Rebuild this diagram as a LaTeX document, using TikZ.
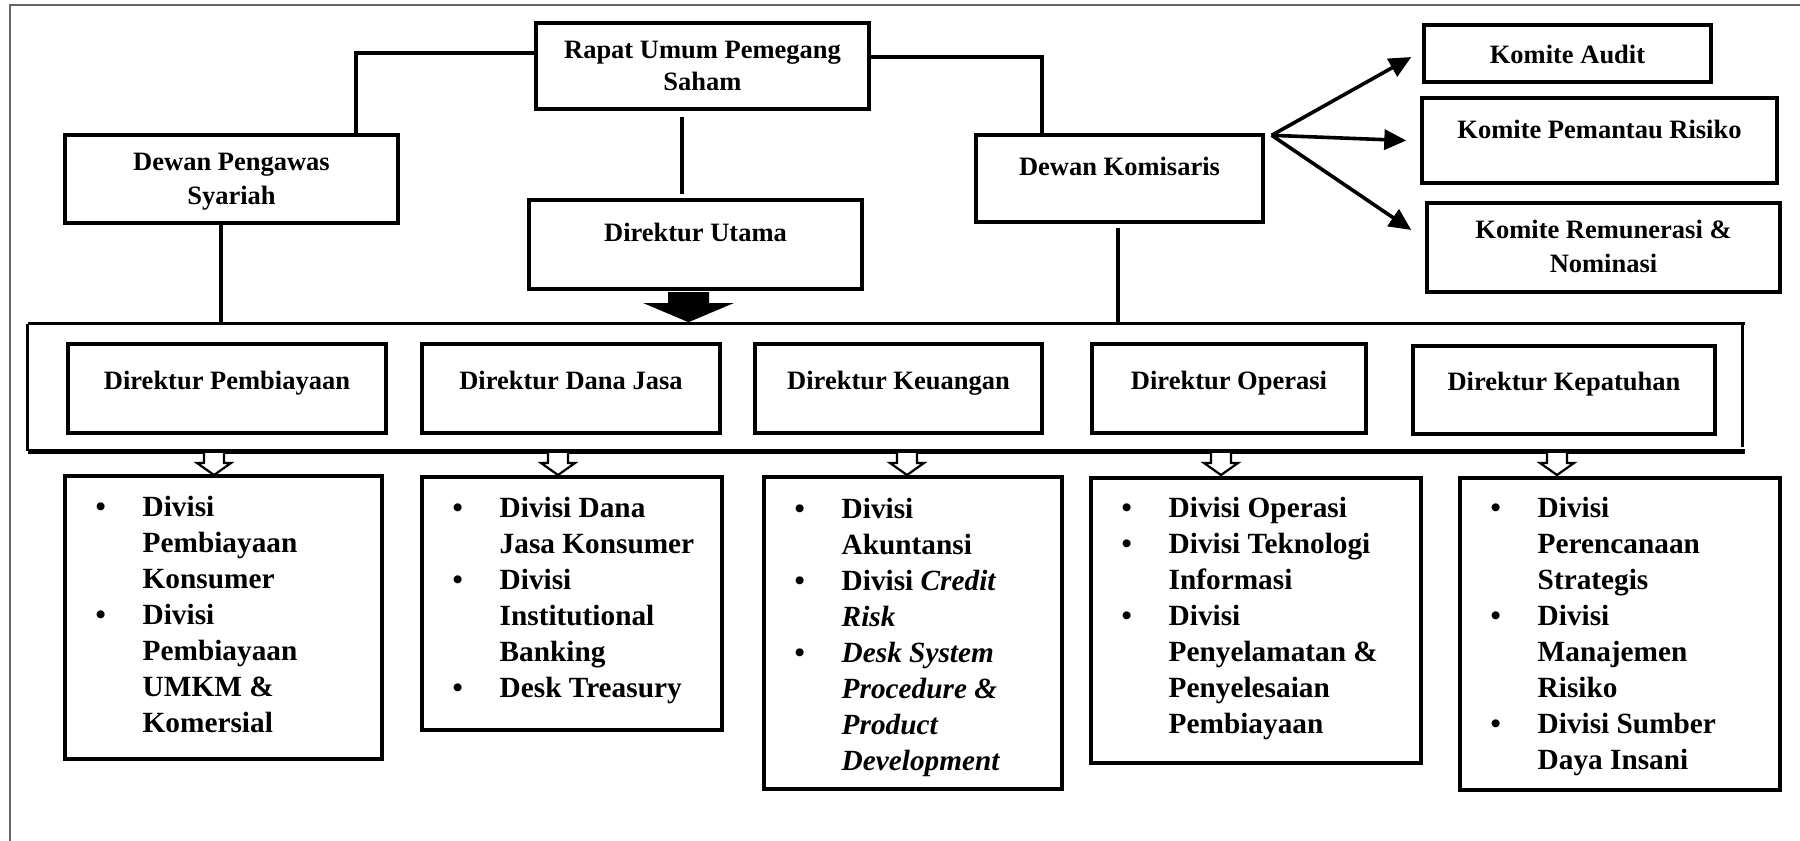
\documentclass[tikz,border=0pt]{standalone}
\usepackage{fontspec}
\setmainfont{Liberation Serif}
\usetikzlibrary{fit,calc,arrows.meta}
\newcommand{\bul}{\makebox[23.5pt][l]{\textbullet}}
\newcommand{\ind}{\hspace*{23.5pt}}
\begin{document}
\begin{tikzpicture}[x=0.5pt,y=-0.5pt,
  box/.style={draw, line width=1.7pt, inner sep=0pt},
  hd/.style={font=\fontsize{13.25pt}{16pt}\selectfont\bfseries, inner sep=0pt, align=center},
  conn/.style={line width=1.6pt},
  fan/.style={line width=1.8pt, -{Triangle[length=11pt,width=10pt]}},
  lst/.style={font=\fontsize{14.65pt}{18pt}\selectfont\bfseries, inner sep=0pt, anchor=base west},
  harrow/.pic={\filldraw[fill=white, line width=1.1pt] (-10,0) -- (-10,10) -- (-17,10) -- (0,22) -- (17,10) -- (10,10) -- (10,0);}
]
\useasboundingbox (0,0) rectangle (1800,841);
\draw[black!60, line width=1pt] (10,841) -- (10,5) -- (1800,5);

% top level boxes
\node[box, fit={(536,23) (869,109)}] (rups) {};
\node[hd, anchor=base] (rupsT) at ($(rups.north)+(0,37)$) {\fontsize{13.25pt}{16pt}\selectfont\begin{tabular}[t]{@{}c@{}}Rapat Umum Pemegang\\Saham\end{tabular}};
\node[box, fit={(65,135) (398,223)}] (dps) {};
\node[hd, anchor=base] (dpsT) at ($(dps.north)+(0,37)$) {\fontsize{13.25pt}{17pt}\selectfont\begin{tabular}[t]{@{}c@{}}Dewan Pengawas\\Syariah\end{tabular}};
\node[box, fit={(529,200) (862,289)}] (du) {};
\node[hd, anchor=base] (duT) at ($(du.north)+(0,43)$) {Direktur Utama};
\node[box, fit={(976,135) (1263,222)}] (dk) {};
\node[hd, anchor=base] (dkT) at ($(dk.north)+(0,42)$) {Dewan Komisaris};
\node[box, fit={(1424,25) (1711,82)}] (ka) {};
\node[hd] (kaT) at ($(ka.center)+(0,1)$) {Komite Audit};
\node[box, fit={(1422,98) (1777,183)}] (kpr) {};
\node[hd, anchor=base] (kprT) at ($(kpr.north)+(0,42)$) {Komite Pemantau Risiko};
\node[box, fit={(1427,203) (1780,292)}] (krn) {};
\node[hd, anchor=base] (krnT) at ($(krn.north)+(0,37)$) {\fontsize{13.25pt}{17pt}\selectfont\begin{tabular}[t]{@{}c@{}}Komite Remunerasi \&\\Nominasi\end{tabular}};

% directors frame
\node[inner sep=0pt, fit={(28,324) (1742,451)}] (dirframe) {};
\draw[line width=1.7pt] (dirframe.north west) -- ($(dirframe.north east)+(3,0)$);
\draw[line width=2.1pt] (dirframe.south west) -- ($(dirframe.south east)+(3,0)$);
\draw[line width=1.7pt] (dirframe.north west) -- (dirframe.south west);
\draw[line width=1.3pt] ($(dirframe.north east)+(0,-2)$) -- ($(dirframe.south east)+(0,-4)$);

\node[box, fit={(68,344) (386,433)}] (dp) {};
\node[hd, anchor=base] (dpT) at ($(dp.north)+(0,47)$) {Direktur Pembiayaan};
\node[box, fit={(422,344) (720,433)}] (ddj) {};
\node[hd, anchor=base] (ddjT) at ($(ddj.north)+(0,47)$) {Direktur Dana Jasa};
\node[box, fit={(755,344) (1042,433)}] (dkeu) {};
\node[hd, anchor=base] (dkeuT) at ($(dkeu.north)+(0,47)$) {Direktur Keuangan};
\node[box, fit={(1092,344) (1366,433)}] (dop) {};
\node[hd, anchor=base] (dopT) at ($(dop.north)+(0,47)$) {Direktur Operasi};
\node[box, fit={(1413,346) (1715,434)}] (dkep) {};
\node[hd, anchor=base] (dkepT) at ($(dkep.north)+(0,46)$) {Direktur Kepatuhan};

% connectors
\draw[conn] ($(rups.west)+(0,-13)$) -| ($(dps.north)+(124.5,0)$);
\draw[conn] ($(rups.east)+(0,-9)$) -| ($(dk.north)+(-77.5,0)$);
\draw[conn] ($(rups.south)+(-20.5,6)$) -- ($(du.north)+(-13.5,-4)$);
\draw[conn] ($(dps.south)+(-10.5,0)$) coordinate (p1) -- (p1 |- dirframe.north);
\draw[conn] ($(dk.south)+(-1.5,4)$) coordinate (p2) -- (p2 |- dirframe.north);

\coordinate (fanO) at ($(dk.north east)+(7,2)$);
\draw[fan] (fanO) -- ($(ka.west)+(-11,3.5)$);
\draw[fan] (fanO) -- ($(kpr.west)+(-14,0)$);
\draw[fan] (fanO) -- ($(krn.west)+(-14,-17.5)$);

% big arrow
\coordinate (bigA) at ($(du.south)+(-7,1.5)$);
\fill ($(bigA)+(-20.5,0)$) -- ($(bigA)+(-20.5,11)$) -- ($(bigA)+(-45,11)$) -- ($(bigA)+(0,30)$) -- ($(bigA)+(45,11)$) -- ($(bigA)+(20.5,11)$) -- ($(bigA)+(20.5,0)$) -- cycle;

% division boxes
\node[box, fit={(65,476) (382,759)}] (l1) {};
\node[box, fit={(422,477) (722,730)}] (l2) {};
\node[box, fit={(764,477) (1062,789)}] (l3) {};
\node[box, fit={(1091,478) (1421,763)}] (l4) {};
\node[box, fit={(1460,478) (1780,790)}] (l5) {};

% hollow arrows
\coordinate (h1) at (214,453);
\coordinate (h2) at (558,453);
\coordinate (h3) at (907,453);
\coordinate (h4) at (1221,453);
\coordinate (h5) at (1557,453);
\pic at (h1) {harrow};
\pic at (h2) {harrow};
\pic at (h3) {harrow};
\pic at (h4) {harrow};
\pic at (h5) {harrow};

\node[lst] (l1T) at ($(l1.north west)+(32,42)$) {\begin{tabular}[t]{@{}l@{}}
\bul Divisi\\ \ind Pembiayaan\\ \ind Konsumer\\
\bul Divisi\\ \ind Pembiayaan\\ \ind UMKM \&\\ \ind Komersial\end{tabular}};
\node[lst] (l2T) at ($(l2.north west)+(32,42)$) {\begin{tabular}[t]{@{}l@{}}
\bul Divisi Dana\\ \ind Jasa Konsumer\\
\bul Divisi\\ \ind Institutional\\ \ind Banking\\
\bul Desk Treasury\end{tabular}};
\node[lst] (l3T) at ($(l3.north west)+(32,43)$) {\begin{tabular}[t]{@{}l@{}}
\bul Divisi\\ \ind Akuntansi\\
\bul Divisi \textit{Credit}\\ \ind \textit{Risk}\\
\bul \textit{Desk System}\\ \ind \textit{Procedure \&}\\ \ind \textit{Product}\\ \ind \textit{Development}\end{tabular}};
\node[lst] (l4T) at ($(l4.north west)+(32,41)$) {\begin{tabular}[t]{@{}l@{}}
\bul Divisi Operasi\\
\bul Divisi Teknologi\\ \ind Informasi\\
\bul Divisi\\ \ind Penyelamatan \&\\ \ind Penyelesaian\\ \ind Pembiayaan\end{tabular}};
\node[lst] (l5T) at ($(l5.north west)+(32,41)$) {\begin{tabular}[t]{@{}l@{}}
\bul Divisi\\ \ind Perencanaan\\ \ind Strategis\\
\bul Divisi\\ \ind Manajemen\\ \ind Risiko\\
\bul Divisi Sumber\\ \ind Daya Insani\end{tabular}};
\end{tikzpicture}
\end{document}
